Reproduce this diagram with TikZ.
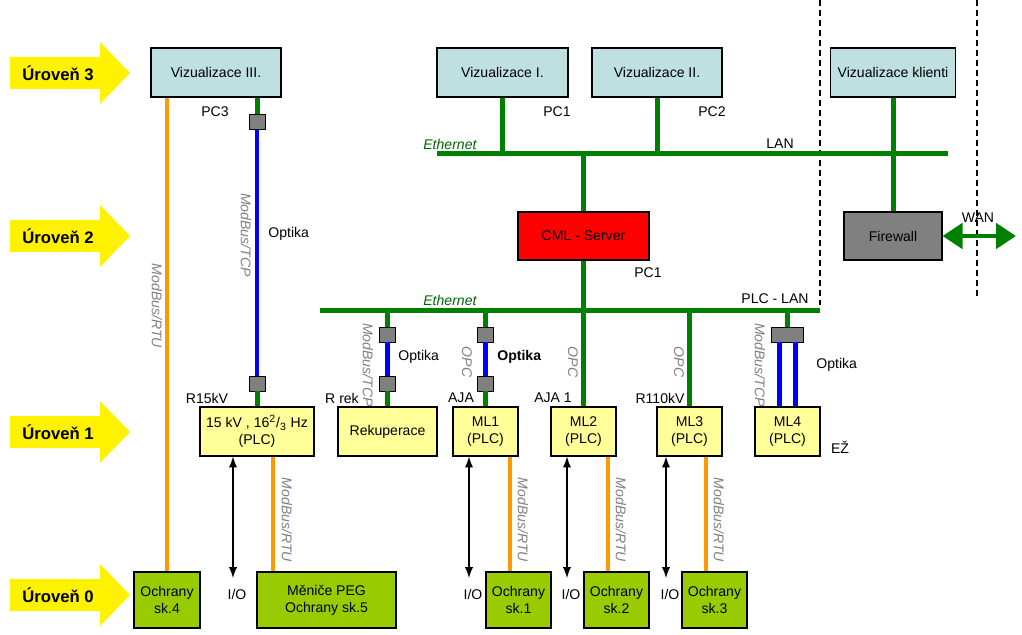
\documentclass[tikz,border=0pt]{standalone}
\usepackage{fontspec}
\setmainfont{Liberation Sans}
\usetikzlibrary{arrows,arrows.meta}

\definecolor{vizcyan}{RGB}{191,224,224}
\definecolor{plcyel}{RGB}{255,255,153}
\definecolor{ochgreen}{RGB}{153,204,0}
\definecolor{ethgreen}{RGB}{0,128,0}
\definecolor{ethtext}{RGB}{0,100,0}
\definecolor{rtuorange}{RGB}{255,153,0}
\definecolor{convgray}{RGB}{128,128,128}

\tikzset{
  box/.style={draw, line width=0.6pt, align=center, inner sep=1pt, font=\fontsize{8}{9.6}\selectfont},
  viz/.style={box, fill=vizcyan, minimum height=0.98cm},
  plc/.style={box, fill=plcyel, minimum height=0.98cm},
  och/.style={box, fill=ochgreen, minimum height=1.12cm},
  conv/.style={draw, line width=0.5pt, fill=convgray, minimum width=0.32cm, minimum height=0.3cm, inner sep=0pt},
  eth/.style={draw=ethgreen, line width=0.1cm},
  fib/.style={draw=blue, line width=0.09cm},
  rtu/.style={draw=rtuorange, line width=0.07cm},
  iox/.style={<->, >=latex, line width=0.04cm},
  lbl/.style={inner sep=0pt, font=\fontsize{8}{9.6}\selectfont},
  ethlbl/.style={lbl, anchor=west, text=ethtext, font=\fontsize{8}{9.6}\selectfont\itshape},
  proto/.style={lbl, rotate=-90, text=gray, font=\fontsize{8}{9.6}\selectfont\itshape},
  level/.style={inner sep=0pt, font=\fontsize{9.5}{11}\selectfont\bfseries},
  zone/.style={line width=0.6pt, dash pattern=on 3.4pt off 2.3pt}
}

\begin{document}
\begin{tikzpicture}[x=0.02cm, y=-0.02cm]
\useasboundingbox (0,0) rectangle (1022,635);

% levels
\foreach \n/\y in {3/73, 2/236, 1/432, 0/595} {
  \fill[yellow] (10,\y-16) -- (100,\y-16) -- (100,\y-31) -- (130,\y) -- (100,\y+31) -- (100,\y+16) -- (10,\y+16) -- cycle;
  \node[level] (lvl\n) at (58,\y) {Úroveň \n};
}

% zones
\coordinate (zaT) at (820,0); \coordinate (zaB) at (820,305);
\coordinate (zbT) at (977,0); \coordinate (zbB) at (977,300);
\draw[zone] (zaT) -- (zaB);
\draw[zone] (zbT) -- (zbB);

% level 3
\node[viz, minimum width=2.6cm] (viz3) at (216,72.5) {Vizualizace III.};
\node[viz, minimum width=2.62cm] (viz1) at (502.5,72.5) {Vizualizace I.};
\node[viz, minimum width=2.6cm] (viz2) at (657,72.5) {Vizualizace II.};
\node[viz, minimum width=2.5cm] (vizk) at (893,72.5) {Vizualizace klienti};

% level 2
\node[box, fill=red, minimum width=2.62cm, minimum height=0.96cm] (cml) at (583.5,236) {CML - Server};
\node[box, fill=convgray, minimum width=1.96cm, minimum height=0.96cm] (fw) at (893,236) {Firewall};

% level 1
\node[plc, minimum width=2.28cm] (plc15) at (257,431.5) {15 kV , 16\textsuperscript{2}/\textsubscript{3} Hz\\(PLC)};
\node[plc, minimum width=1.98cm] (rek) at (387.5,431.5) {Rekuperace};
\node[plc, minimum width=1.3cm] (ml1) at (485.5,431.5) {ML1\\(PLC)};
\node[plc, minimum width=1.3cm] (ml2) at (583.5,431.5) {ML2\\(PLC)};
\node[plc, minimum width=1.3cm] (ml3) at (689.5,431.5) {ML3\\(PLC)};
\node[plc, minimum width=1.3cm] (ml4) at (787.5,431.5) {ML4\\(PLC)};

% level 0
\node[och, minimum width=1.32cm] (och4) at (167,600) {Ochrany\\sk.4};
\node[och, minimum width=2.78cm] (peg) at (326.5,600) {Měniče PEG\\Ochrany sk.5};
\node[och, minimum width=1.3cm] (och1) at (518.5,600) {Ochrany\\sk.1};
\node[och, minimum width=1.3cm] (och2) at (616.5,600) {Ochrany\\sk.2};
\node[och, minimum width=1.3cm] (och3) at (714.5,600) {Ochrany\\sk.3};

% ethernet buses
\coordinate (lanW) at (437,154); \coordinate (lanE) at (948,154);
\coordinate (plcW) at (320,310); \coordinate (plcE) at (820,310);
\draw[eth] (lanW) -- (lanE);
\draw[eth] (plcW) -- (plcE);
\node[ethlbl] (ethlan) at (423,144) {Ethernet};
\node[ethlbl] (ethplc) at (423,300) {Ethernet};
\node[lbl] (lan) at (780,144) {LAN};
\node[lbl] (plclan) at (775,299) {PLC - LAN};

\draw[eth] (viz1.south) -- (viz1.south |- lanW);
\draw[eth] (viz2.south) -- (viz2.south |- lanW);
\draw[eth] (vizk.south) -- (fw.north);
\draw[eth] (cml.north) -- (cml.north |- lanW);
\draw[eth] (cml.south) -- (ml2.north);
\draw[eth] (ml3.north) -- (ml3.north |- plcW);

% optical links
\node[conv] (cv3a) at (257,122) {};
\node[conv] (cv3b) at (257,383.5) {};
\draw[eth] (viz3.south -| cv3a) -- (cv3a);
\draw[fib] (cv3a) -- (cv3b);
\draw[eth] (cv3b) -- (plc15.north);

\node[conv] (cvra) at (387.5,334.5) {};
\node[conv] (cvrb) at (387.5,383.5) {};
\draw[eth] (cvra) -- (cvra |- plcW);
\draw[fib] (cvra) -- (cvrb);
\draw[eth] (cvrb) -- (rek.north);

\node[conv] (cvla) at (485.5,334.5) {};
\node[conv] (cvlb) at (485.5,383.5) {};
\draw[eth] (cvla) -- (cvla |- plcW);
\draw[fib] (cvla) -- (cvlb);
\draw[eth] (cvlb) -- (ml1.north);

\node[conv, minimum width=0.64cm] (cv4) at (787.5,334.5) {};
\draw[eth] (cv4) -- (cv4 |- plcW);
\draw[fib] ([xshift=-0.16cm]cv4.south) -- ([xshift=-0.16cm]ml4.north);
\draw[fib] ([xshift=0.16cm]cv4.south) -- ([xshift=0.16cm]ml4.north);

% WAN
\coordinate (wanE) at (1016,236);
\draw[draw=ethgreen, line width=0.1cm, {Triangle[length=0.4cm,width=0.5cm]}-{Triangle[length=0.4cm,width=0.5cm]}] (fw.east) -- (wanE);
\node[lbl] (wan) at (978,218) {WAN};

% serial links and I/O
\draw[rtu] (och4.north) -- (och4.north |- viz3.south);
\draw[rtu] (273,0 |- plc15.south) -- (273,0 |- peg.north);
\coordinate (io15) at (233,578);
\draw[iox] (233,0 |- plc15.south) -- (io15);
\node[lbl] (io15l) at (237,594) {I/O};
\node[proto] (rtu15) at (287,520) {ModBus/RTU};
\node[proto] (rtu4) at (157,306) {ModBus/RTU};

\foreach \m/\o/\a/\r in {ml1/och1/469/510, ml2/och2/567/608, ml3/och3/666/706} {
  \draw[rtu] (\r,0 |- \m.south) -- (\r,0 |- \o.north);
  \coordinate (io\m) at (\a,578);
  \draw[iox] (\a,0 |- \m.south) -- (io\m);
  \node[lbl] (io\m l) at (\a+4,594) {I/O};
  \node[proto] (rtu\m) at (\r+13,520) {ModBus/RTU};
}

% labels
\node[lbl] (pc3) at (215,112) {PC3};
\node[lbl] (pc1) at (557,112) {PC1};
\node[lbl] (pc2) at (712,112) {PC2};
\node[lbl] (pc1s) at (648,273) {PC1};
\node[proto] (tcp3) at (246,235) {ModBus/TCP};
\node[lbl, anchor=west] (opt3) at (268,234) {Optika};
\node[proto] (tcpr) at (368,365) {ModBus/TCP};
\node[lbl, anchor=west] (optr) at (398,357) {Optika};
\node[proto] (opc1) at (467,362) {OPC};
\node[lbl, anchor=west, font=\fontsize{8}{9.6}\selectfont\bfseries] (optl) at (497,357) {Optika};
\node[proto] (opc2) at (573,362) {OPC};
\node[proto] (opc3) at (679,362) {OPC};
\node[proto] (tcp4) at (760,365) {ModBus/TCP};
\node[lbl, anchor=west] (opt4) at (816,365) {Optika};
\node[lbl] (r15) at (207,398) {R15kV};
\node[lbl] (rrek) at (342,398) {R rek};
\node[lbl] (aja) at (461,398) {AJA};
\node[lbl] (aja1) at (553,398) {AJA 1};
\node[lbl] (r110) at (660,398) {R110kV};
\node[lbl] (ez) at (840,447) {EŽ};
\end{tikzpicture}
\end{document}
